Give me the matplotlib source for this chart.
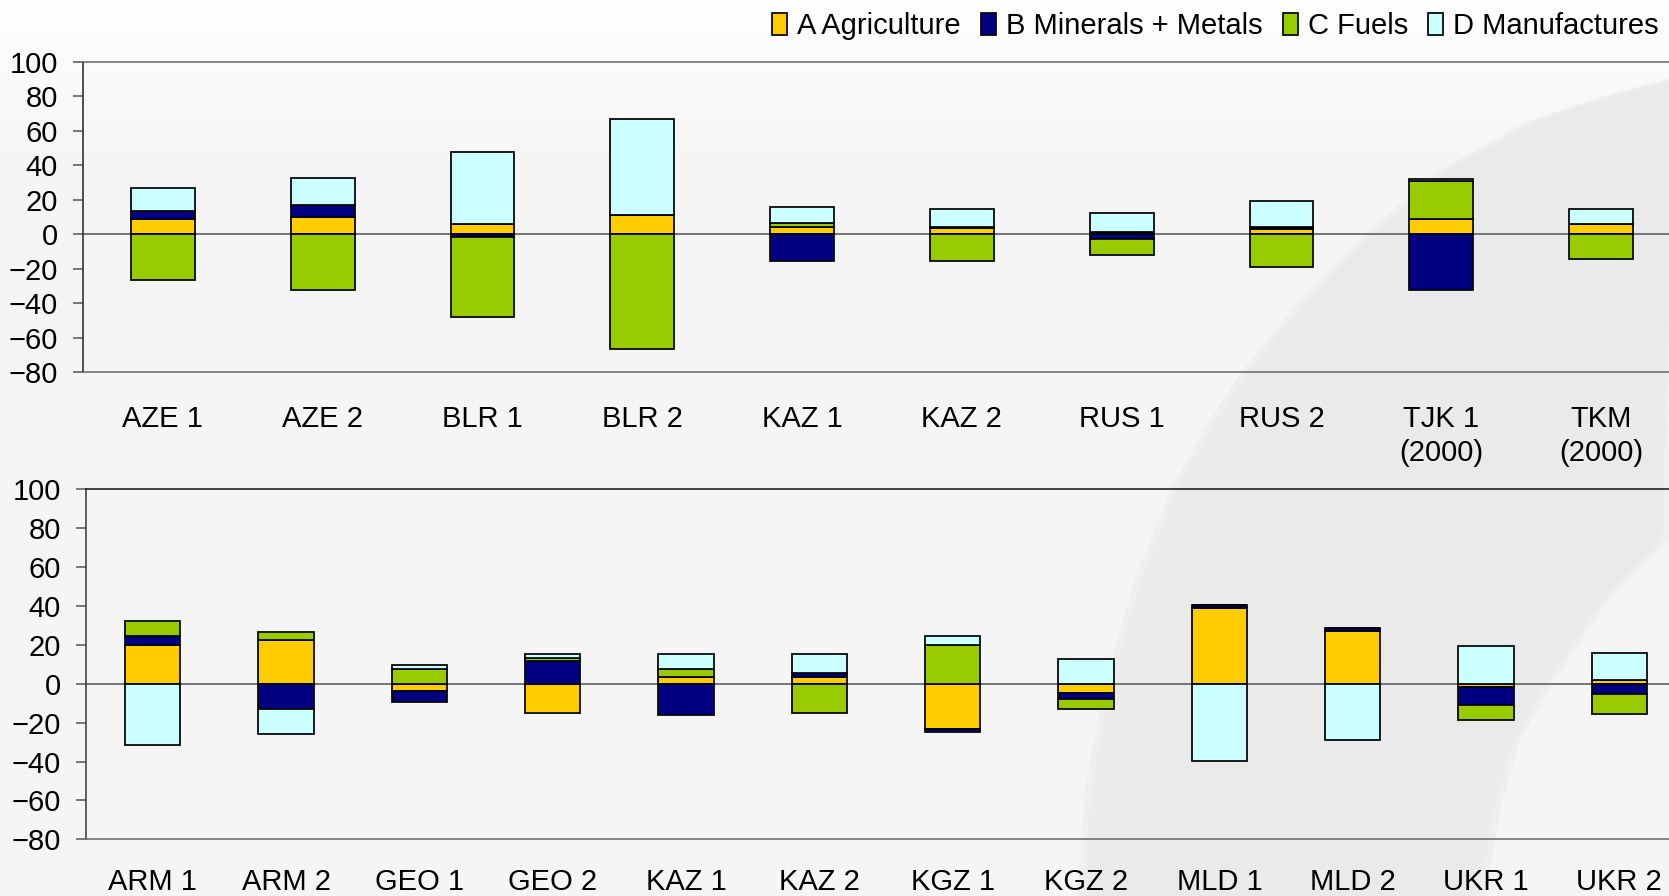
import numpy as np
import matplotlib
matplotlib.use("Agg")
import matplotlib.pyplot as plt
from matplotlib.patches import Polygon

plt.rcParams['font.family'] = ['Liberation Sans', 'DejaVu Sans']

series = ['A Agriculture', 'B Minerals + Metals', 'C Fuels', 'D Manufactures']
colors = ['#FFCC00', '#000080', '#99CC00', '#CCFFFF']

# top panel
top_labels = ['AZE 1', 'AZE 2', 'BLR 1', 'BLR 2', 'KAZ 1', 'KAZ 2',
              'RUS 1', 'RUS 2', 'TJK 1\n(2000)', 'TKM\n(2000)']
top_A = [8.7, 10.0, 5.6, 11.0, 4.2, 3.7, 1.0, 2.7, 8.7, 6.0]
top_B = [4.8, 6.8, -1.5, 0.0, -15.5, 0.6, -3.1, 1.5, -32.3, 0.0]
top_C = [-26.7, -32.3, -46.5, -66.6, 2.3, -15.5, -9.3, -19.0, 22.0, -14.3]
top_D = [13.0, 15.5, 42.2, 56.0, 9.0, 10.2, 11.2, 14.9, 1.5, 8.5]

# bottom panel
bot_labels = ['ARM 1', 'ARM 2', 'GEO 1', 'GEO 2', 'KAZ 1', 'KAZ 2',
              'KGZ 1', 'KGZ 2', 'MLD 1', 'MLD 2', 'UKR 1', 'UKR 2']
bot_A = [20.0, 22.3, -3.6, -14.9, 3.6, 3.6, -23.5, -5.0, 38.8, 27.1, -1.5, 1.9]
bot_B = [4.5, -12.9, -5.6, 11.5, -16.0, 2.0, -1.3, -3.1, 1.5, 1.4, -9.6, -5.5]
bot_C = [7.7, 4.1, 7.6, 1.7, 3.8, -15.0, 20.0, -4.8, 0.0, 0.0, -7.8, -10.3]
bot_D = [-31.7, -13.0, 2.0, 2.2, 8.1, 9.9, 4.5, 12.5, -39.5, -28.8, 19.4, 13.7]

FS = 21
W, H = 1669, 896
fig = plt.figure(figsize=(W / 100, H / 100), dpi=100)

# background: light grey with whiter top and a faint darker swoosh on the right
bg = fig.add_axes([0, 0, 1, 1], zorder=-10)
grad = np.clip(np.linspace(0, 1, 200) / 0.18, 0, 1)[:, None]
bg.imshow(0.995 - 0.035 * grad, cmap='gray', vmin=0, vmax=1, aspect='auto',
          extent=[0, W, H, 0])
outer = [(1669, 78), (1600, 97), (1526, 122), (1440, 170), (1366, 233),
         (1300, 300), (1245, 367), (1210, 420), (1170, 490), (1135, 580),
         (1105, 680), (1085, 790), (1077, 896)]
inner = [(1486, 896), (1500, 810), (1520, 740), (1555, 680), (1605, 605),
         (1669, 540)]
for grow, a in [(0, 0.4), (6, 0.3), (12, 0.25)]:
    shape = [(x + grow, y) for x, y in outer] + [(x - grow, y) for x, y in inner]
    bg.add_patch(Polygon(shape, closed=True, facecolor='#e6e6e6',
                         edgecolor='none', alpha=a))
bg.set_xlim(0, W)
bg.set_ylim(H, 0)
bg.axis('off')


def stacked(ax, labels, vals, width, xpad):
    x = np.arange(len(labels))
    pos = np.zeros(len(labels))
    neg = np.zeros(len(labels))
    for name, v, c in zip(series, vals, colors):
        v = np.array(v)
        base = np.where(v >= 0, pos, neg)
        ax.bar(x, v, width, bottom=base, color=c, edgecolor='black',
               linewidth=1.25, label=name, zorder=3)
        pos = pos + np.where(v > 0, v, 0)
        neg = neg + np.where(v < 0, v, 0)
    ax.axhline(0, color='#606060', lw=1.2, zorder=1)
    ax.set_xlim(-0.5, len(labels) - 0.5)
    ax.set_ylim(-80, 100)
    ax.set_yticks(range(-80, 101, 20))
    ax.set_xticks(x)
    ax.set_xticklabels(labels, fontsize=FS)
    for t in ax.get_xticklabels():
        t.set_linespacing(1.3)
    ax.tick_params(axis='x', length=0, pad=xpad)
    ax.tick_params(axis='y', labelsize=FS, length=7, width=1.1,
                   color='#555555', pad=11)
    ax.patch.set_visible(False)
    ax.spines['right'].set_visible(False)
    for s in ['left', 'top', 'bottom']:
        ax.spines[s].set_linewidth(1.2)


ax1 = fig.add_axes([83 / W, 1 - 372 / H, 1598 / W, 310.3 / H])
stacked(ax1, top_labels, [top_A, top_B, top_C, top_D], 0.4, 23.5)
ax1.spines['top'].set_color('#707070')
ax1.spines['bottom'].set_color('#707070')
ax1.spines['left'].set_color('#333333')

ax2 = fig.add_axes([86 / W, 1 - 839.3 / H, 1600 / W, 350 / H])
stacked(ax2, bot_labels, [bot_A, bot_B, bot_C, bot_D], 0.415, 21)
ax2.spines['top'].set_color('#222222')
ax2.spines['bottom'].set_color('#707070')
ax2.spines['left'].set_color('#444444')

handles, names = ax1.get_legend_handles_labels()
fig.legend(handles, names, loc='upper right', bbox_to_anchor=(1.0, 0.998),
           ncol=4, frameon=False, fontsize=FS, handlelength=0.5,
           handleheight=0.75, handletextpad=0.35, columnspacing=0.7,
           borderpad=0.25, borderaxespad=0.1)

fig.savefig('out.png', dpi=100)
